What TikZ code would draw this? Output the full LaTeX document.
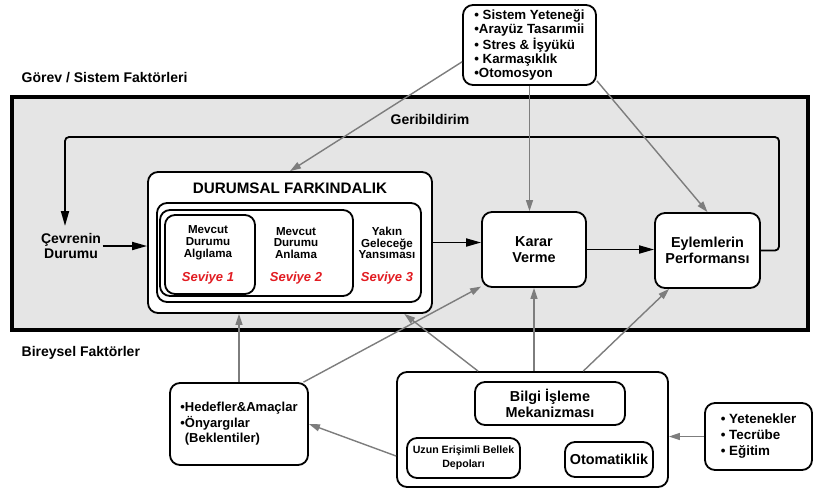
\documentclass[tikz,border=0pt]{standalone}
\usepackage{fontspec}
\setmainfont{Liberation Sans}
\usetikzlibrary{arrows.meta}
\usetikzlibrary{calc}
\definecolor{panel}{RGB}{229,229,229}
\definecolor{sevred}{RGB}{226,28,34}
\definecolor{arrowgray}{RGB}{125,125,125}
\tikzset{
  box/.style 2 args= {draw, rounded corners=10pt, line width=1.8pt, fill=white,
    minimum width=#1, minimum height=#2, inner sep=0pt},
  lbl/.style= {font=\bfseries\fontsize{14}{15}\selectfont, align=center, inner sep=1.5pt},
  big/.style= {font=\bfseries\fontsize{14.4}{16.5}\selectfont, align=center},
  small/.style= {font=\bfseries\fontsize{11.6}{11.8}\selectfont, align=center, inner sep=0pt},
  tiny/.style= {font=\bfseries\fontsize{10.6}{14}\selectfont, align=center},
  list/.style= {font=\bfseries\fontsize{13.3}{14}\selectfont, align=left},
  sev/.style= {font=\bfseries\itshape\fontsize{13}{14}\selectfont, text=sevred, inner sep=0pt},
  flow/.style= {line width=1.8pt, -{Triangle[length=15pt,width=8pt]}},
  factor/.style= {line width=1.4pt, draw=arrowgray, fill=arrowgray, -{Triangle[length=11pt,width=7pt]}},
}

\begin{document}
\begin{tikzpicture}[x=1pt, y=-1pt]
  \useasboundingbox (0,0) rectangle (814,491);
  % task / system frame
  \draw [line width=3.5pt, fill=panel] (12,97) rectangle (808,330);
  \node [lbl, anchor=west] (gorev) at (20,78) {Görev / Sistem Faktörleri};
  \node [lbl, anchor=west] (birey) at (20,353) {Bireysel Faktörler};
  \node [lbl] (geri) at (430,119) {Geribildirim};

  \node [box={133pt}{80pt}, list] (sys) at (529.5,45)
    {• Sistem Yeteneği\\•Arayüz Tasarımii\\• Stres \& İşyükü\\• Karmaşıklık\\•Otomosyon};

  % situation awareness
  \node [box={284pt}{141pt}] (sa) at (290,242.5) {};
  \node [font=\bfseries\fontsize{15.2}{17}\selectfont] (satitle) at (290,188) {DURUMSAL FARKINDALIK};
  \node [box={264pt}{99pt}] (lvl3) at (289,252.5) {};
  \node [box={193pt}{86pt}] (lvl2) at (256.5,253) {};
  \node [box={90pt}{79pt}] (lvl1) at (210,254.5) {};
  \node [small] (t1) at (208,243) {Mevcut\\Durumu\\Algılama};
  \node [small] (t2) at (296,243) {Mevcut\\Durumu\\Anlama};
  \node [small] (t3) at (387,243) {Yakın\\Geleceğe\\Yansıması};
  \node [sev] (s1) at (208,278) {Seviye 1};
  \node [sev] (s2) at (296,278) {Seviye 2};
  \node [sev] (s3) at (387,278) {Seviye 3};

  \node [lbl] (cevre) at (71,246) {Çevrenin\\Durumu};
  \node [box={104pt}{75pt}, big] (karar) at (534,249.5) {Karar\\Verme};
  \node [box={105pt}{75pt}, big] (eylem) at (707.5,250.5) {Eylemlerin\\Performansı};

  % individual factors
  \node [box={138pt}{82pt}, list, font=\bfseries\fontsize{13}{15.5}\selectfont] (hedef) at (239,424)
    {•Hedefler\&Amaçlar\\•Önyargılar\\\phantom{•}(Beklentiler)};
  \node [box={271pt}{115pt}] (bilgi) at (532.5,429.5) {};
  \node [box={150pt}{43pt}, big] (bim) at (550,403.5) {Bilgi İşleme\\Mekanizması};
  \node [box={113pt}{40pt}, tiny] (uzun) at (463.5,458) {Uzun Erişimli Bellek\\Depoları};
  \node [box={88pt}{35pt}, big] (oto) at (609,459.5) {Otomatiklik};
  \node [box={107pt}{67pt}, list, font=\bfseries\fontsize{13.4}{16}\selectfont] (yet) at (758.5,436.5)
    {• Yetenekler\\• Tecrübe\\• Eğitim};

  % main flow
  \draw [flow] (cevre.east) -- (cevre.east -| sa.west);
  \draw [flow] (sa.east) -- (sa.east -| karar.west);
  \draw [flow] (karar.east) -- (karar.east -| eylem.west);
  \coordinate (fb) at (779,137);
  \coordinate (fbend) at (65,226);
  \draw [flow, rounded corners=4pt] (eylem.east) -| (fb) -| (fbend);

  % factor arrows
  \draw [factor] (sys.194) -- (sa.north);
  \draw [factor] (sys.south) -- (sys.south |- karar.north);
  \draw [factor] (sys.332) -- (eylem.north);
  \draw [factor] (hedef.north) -- (hedef.north |- sa.south);
  \draw [factor] (hedef.33) -- (karar.215);
  \draw [factor] (bilgi.191) -- (hedef.east);
  \draw [factor] (bilgi.133) -- (sa.328);
  \draw [factor] (karar.south |- bilgi.north) -- (karar.south);
  \draw [factor] (bilgi.49) -- (eylem.225);
  \draw [factor] (yet.west) -- (yet.west -| bilgi.east);
\end{tikzpicture}
\end{document}
